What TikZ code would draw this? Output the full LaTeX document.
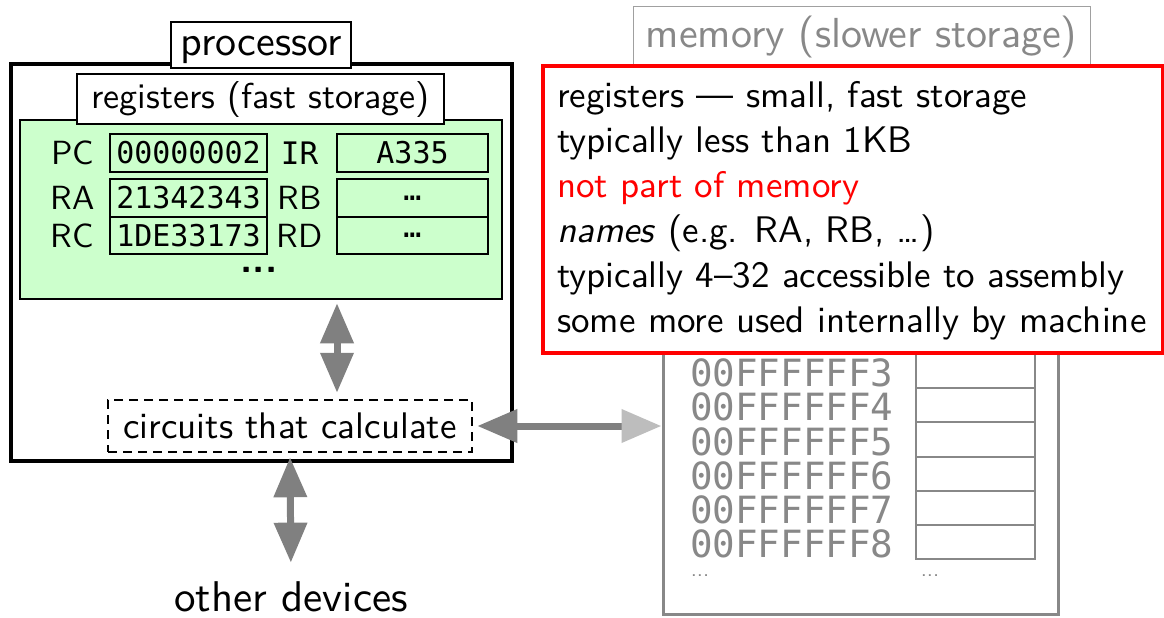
\documentclass[tikz,border=0pt]{standalone}
\usepackage{fontspec}
\setsansfont{lmsans10-regular.otf}[
  ItalicFont=lmsans10-oblique.otf,
  BoldFont=lmsans10-bold.otf,
  BoldItalicFont=lmsans10-boldoblique.otf]
\setmonofont{DejaVu Sans Mono}
\renewcommand{\familydefault}{\sfdefault}
\usetikzlibrary{arrows.meta}

\definecolor{regfill}{HTML}{CCFFCC}
\definecolor{busgray}{HTML}{808080}
\definecolor{buslight}{HTML}{BDBDBD}
\definecolor{memgray}{HTML}{888888}
\definecolor{labelgray}{HTML}{A0A0A0}
\definecolor{notered}{HTML}{FF0000}

\tikzset{
  bustip/.tip={Triangle[length=40pt, width=32pt]},
  bustiplight/.tip={Triangle[length=40pt, width=32pt, color=buslight]},
}

\begin{document}
\begin{tikzpicture}[x=1pt,y=-1pt,
  bigtag/.style={draw=black, line width=1.3pt, fill=white, inner sep=0pt,
    text height=31.5pt, text depth=10.5pt, font=\fontsize{42}{50}\selectfont},
  regtag/.style={draw=black, line width=1.3pt, fill=white, inner sep=0pt,
    text height=27pt, text depth=9pt, font=\fontsize{36}{43}\selectfont},
  regname/.style={inner sep=0pt, font=\fontsize{33.5}{40}\selectfont},
  regbox/.style={draw=black, line width=2pt, inner sep=0pt, minimum width=157pt,
    minimum height=38pt, font=\ttfamily\fontsize{30}{36}\selectfont},
  widebox/.style={regbox, minimum width=151pt},
  cellbox/.style={draw=memgray, line width=2pt, fill=white, inner sep=0pt,
    minimum width=119pt, minimum height=34.2pt},
  addr/.style={inner sep=0pt, anchor=west, text=memgray,
    font=\ttfamily\fontsize{37.5}{44}\selectfont},
  note/.style={inner sep=0pt, anchor=base west, font=\fontsize{37}{45}\selectfont},
  bus/.style={draw=busgray, line width=7pt},
]
\useasboundingbox[fill=white] (0,0) rectangle (1164,618);

% processor with its register file
\node[draw=black, line width=4pt, minimum width=501pt, minimum height=397pt] (proc) at (261.5,262.5) {};
\node[draw=black, line width=2.5pt, fill=regfill, minimum width=482pt, minimum height=179pt] (regs) at (261,209.5) {};
\node[regtag, minimum width=367pt, minimum height=50pt] (regstag) at (260.5,99) {registers (fast storage)};
\node[bigtag, minimum width=180pt, minimum height=46pt] (proctag) at (261,45) {processor};

\node[regname] (pc) at (72.5,153) {PC};
\node[regbox] (pcv) at (188.5,153) {00000002};
\node[regname, font=\ttfamily\fontsize{31}{37}\selectfont] (ir) at (299.5,153) {IR};
\node[widebox] (irv) at (412.5,153) {A335};

\node[regname] (ra) at (72.5,198) {RA};
\node[regbox, minimum height=37.5pt] (rav) at (188.5,198) {21342343};
\node[regname] (rb) at (299.5,198) {RB};
\node[widebox, minimum height=37.5pt] (rbv) at (412.5,198) {…};

\node[regname] (rc) at (72.5,235.5) {RC};
\node[regbox, minimum height=37.5pt] (rcv) at (188.5,235.5) {1DE33173};
\node[regname] (rd) at (299.5,235.5) {RD};
\node[widebox, minimum height=37.5pt] (rdv) at (412.5,235.5) {…};

\node[inner sep=0pt, font=\bfseries\fontsize{40}{48}\selectfont] (moreregs) at (259,270) {...};

% arithmetic circuits
\node[draw=black, line width=2.5pt, dash pattern=on 9pt off 6pt, minimum width=364pt,
  minimum height=52pt, inner sep=0pt, font=\fontsize{37}{44}\selectfont] (calc) at (290,426) {circuits that calculate};

% memory
\node[draw=memgray, line width=3pt, minimum width=395pt, minimum height=552pt] (mem) at (860.5,338) {};
\foreach \i [count=\k from 0] in {3,...,8} {
  \node[cellbox] (cell\i) at (975.5,371+34.2*\k) {};
  \node[addr] (addr\i) at (690,373+34.2*\k) {00FFFFFF\i};
}
\node[inner sep=0pt, text=memgray, font=\fontsize{22}{26}\selectfont] (moreaddr) at (700,576) {...};
\node[inner sep=0pt, text=memgray, font=\fontsize{22}{26}\selectfont] (morecell) at (930,576) {...};
\node[bigtag, draw=labelgray, line width=1pt, text=memgray, minimum width=457pt, minimum height=61pt] (memtag) at (861.5,37.5) {memory (slower storage)};

% notes about registers
\draw[notered, line width=3.5pt, fill=white] (543,66) rectangle (1163,353);
\node[note] (n1) at (557,107) {registers — small, fast storage};
\node[note] (n2) at (557,152) {typically less than 1KB};
\node[note, text=notered] (n3) at (557,197) {not part of memory};
\node[note] (n4) at (557,242) {\textit{names} (e.g. RA, RB, …)};
\node[note] (n5) at (557,287) {typically 4–32 accessible to assembly};
\node[note] (n6) at (557,332) {some more used internally by machine};

% other devices
\node[inner sep=0pt, font=\fontsize{43}{52}\selectfont] (other) at (291,597) {other devices};

% data paths
\coordinate (upx) at (337,0);
\draw[bus, bustip-bustip, shorten <=3pt, shorten >=6pt] (regs.south -| upx) -- (calc.north -| upx);
\draw[bus, bustip-bustiplight, shorten <=4pt] (calc.east) -- (calc.east -| mem.west);
\draw[bus, bustip-bustip, shorten <=4pt, shorten >=19pt] (calc.south) -- (other.north);
\end{tikzpicture}
\end{document}
